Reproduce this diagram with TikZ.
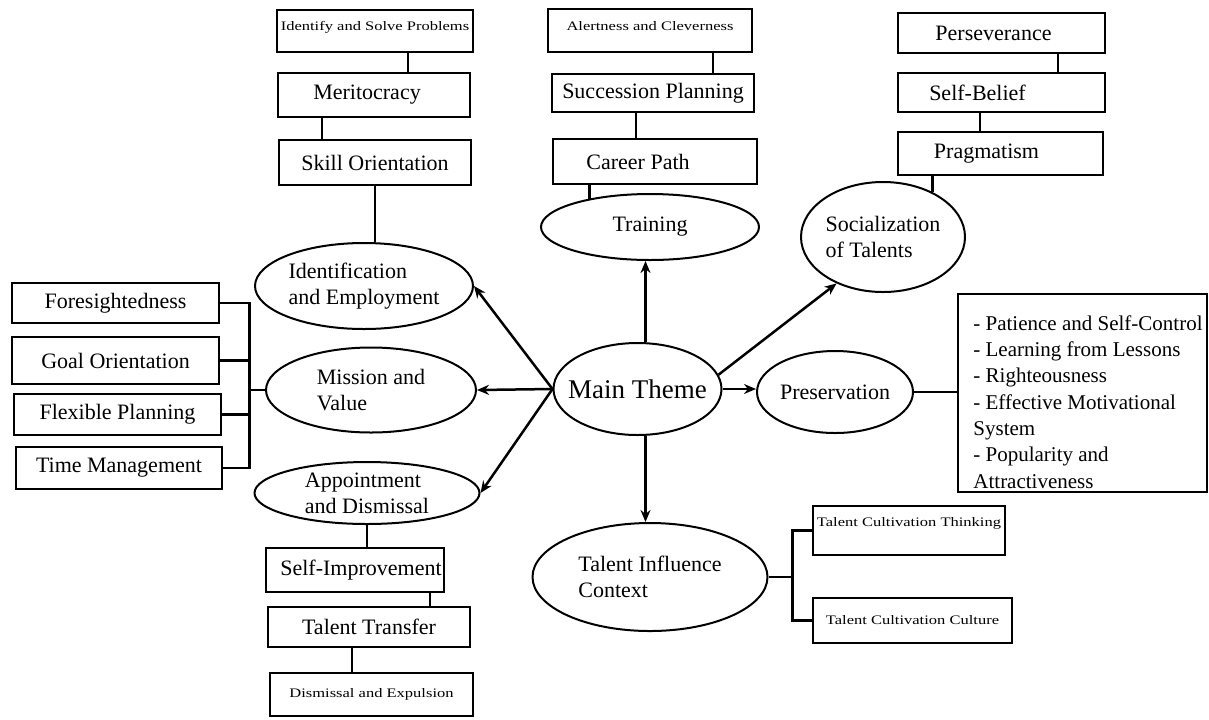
\documentclass[tikz,border=0pt]{standalone}
\usepackage{fontspec}
\usepackage{graphicx}
\setmainfont{Liberation Serif}
\usetikzlibrary{shapes.geometric,arrows.meta,calc}
\newcommand{\smalltxt}[1]{\scalebox{1.27}[1]{\fontsize{6.5}{8}\selectfont #1}}
\newcommand{\lift}[2]{\raisebox{#1}[\height][\depth]{#2}}
\begin{document}
\begin{tikzpicture}[x=0.5pt,y=-0.5pt,
  bx/.style 2 args={draw, line width=1.4pt, rectangle, inner sep=0pt,
    minimum width=#1*0.5pt, minimum height=#2*0.5pt, font=\fontsize{11}{13}\selectfont},
  el/.style 2 args={draw, line width=1pt, ellipse, inner sep=0pt,
    minimum width=#1*0.5pt, minimum height=#2*0.5pt, font=\fontsize{11}{13}\selectfont, align=left},
  ln/.style={line width=1.4pt},
  arr/.style={line width=1.25pt, -{Stealth[length=6pt,width=5pt]}}
]
\fill[white] (0,0) rectangle (1209,719);
\useasboundingbox (0,0) rectangle (1209,719);

% top-left chain
\node[bx={196}{42}] (isp) at (375,31) {\lift{2pt}{\smalltxt{Identify and Solve Problems}}};
\node[bx={192}{44}] (mer) at (374,95) {\makebox[0pt]{Meritocracy\hspace*{7pt}}};
\node[bx={192}{45}] (skl) at (375,162.5) {Skill Orientation};
% top-middle chain
\node[bx={204}{43}] (alc) at (650,30.5) {\lift{2pt}{\smalltxt{Alertness and Cleverness}}};
\node[bx={202}{38}] (suc) at (653,93) {Succession Planning};
\node[bx={204}{45}] (car) at (655,161.5) {\makebox[0pt]{Career Path\hspace*{17pt}}};
% top-right chain
\node[bx={207}{40}] (per) at (1001.5,33) {\makebox[0pt]{Perseverance\hspace*{8pt}}};
\node[bx={207}{39}] (sbf) at (1001.5,92.5) {\makebox[0pt]{Self-Belief\hspace*{24pt}}};
\node[bx={205}{43}] (prg) at (1000.5,153.5) {\makebox[0pt]{Pragmatism\hspace*{14pt}}};
% left column
\node[bx={207}{40}] (fore) at (115.5,303) {Foresightedness};
\node[bx={207}{47}] (goal) at (115.5,360.5) {Goal Orientation};
\node[bx={207}{41}] (flex) at (117.5,414.5) {Flexible Planning};
\node[bx={206}{42}] (time) at (119,468) {Time Management};
% bottom-left chain
\node[bx={178}{44}] (simp) at (355,570) {\makebox[0pt]{\hspace*{6pt}Self-Improvement}};
\node[bx={202}{40}] (ttr) at (369,627) {Talent Transfer};
\node[bx={203}{43}] (dex) at (371.5,694.5) {\smalltxt{Dismissal and Expulsion}};
% bottom-right boxes
\node[bx={192}{49}] (tct) at (909,530.5) {\lift{3.75pt}{\smalltxt{Talent Cultivation Thinking}}};
\node[bx={199}{45}] (tcc) at (912.5,620.5) {\smalltxt{Talent Cultivation Culture}};
% preservation box
\node[anchor=north west, inner sep=0pt, align=left, font=\fontsize{10.5}{13.15}\selectfont]
  (plist) at (973,315) {- Patience and Self-Control\\- Learning from Lessons\\- Righteousness\\- Effective Motivational\\System\\- Popularity and\\Attractiveness};
\node[bx={249}{198}] (pbox) at (1082.5,393) {};

% ellipses
\node[el={218}{86}] (ident) at (364,286) {Identification\\and Employment};
\node[el={210}{85}] (mis) at (371,390) {Mission and\\Value};
\node[el={225}{62}] (appt) at (367,493) {Appointment\\and Dismissal};
\node[el={168}{92}, font=\fontsize{13.5}{16}\selectfont] (main) at (637.5,389) {\makebox[40pt]{Main Theme}};
\node[el={218}{66}] (train) at (650,227) {Training};
\node[el={164}{110}] (soc) at (883,237) {Socialization\\of Talents};
\node[el={156}{82}] (pres) at (835,392) {Preservation};
\node[el={235}{108}] (tic) at (650,577) {Talent Influence\\Context};

% connectors
\draw[ln] ([xshift=16.5pt]isp.south) -- ([xshift=17pt]mer.north);
\draw[ln] ([xshift=-26pt]mer.south) -- ([xshift=-26.5pt]skl.north);
\draw[ln] (skl.south) -- (skl.south |- ident.north);
\draw[ln] ([xshift=31.5pt]alc.south) -- ([xshift=30pt]suc.north);
\draw[ln] ([xshift=-8.5pt]suc.south) -- ([xshift=-9.5pt]car.north);
\draw[ln] (car.south -| train.155) -- (train.155);
\draw[ln] ([xshift=28.25pt]per.south) -- ([xshift=28.25pt]sbf.north);
\draw[ln] ([xshift=-10.75pt]sbf.south) -- ([xshift=-10.25pt]prg.north);
\draw[ln] (prg.south -| soc.42) -- (soc.42);

\draw[ln] (fore.east) -- ([xshift=14.5pt]fore.east) -- ([xshift=14.5pt]fore.east |- time.east) -- (time.east);
\draw[ln] (goal.east) -- ([xshift=14.5pt]fore.east |- goal.east);
\draw[ln] (flex.east) -- ([xshift=14.5pt]fore.east |- flex.east);
\draw[ln] (mis.west) -- ([xshift=14.5pt]fore.east |- mis.west);

\draw[ln] (appt.south) -- (appt.south |- simp.north);
\draw[ln] ([xshift=37.5pt]simp.south) -- ([xshift=30.5pt]ttr.north);
\draw[ln] ([xshift=-8.5pt]ttr.south) -- ([xshift=-9.75pt]dex.north);

\draw[ln] (tct.west) -- ([xshift=-9.5pt]tct.west) -- ([xshift=-9.5pt]tct.west |- tcc.west) -- (tcc.west);
\draw[ln] (tic.east) -- ([xshift=-9.5pt]tct.west |- tic.east);

\draw[ln] (pres.east) -- (pbox.west |- pres.east);

% arrows from main theme
\draw[arr] (main.west) -- (ident.east);
\draw[arr] (main.west) -- (mis.east);
\draw[arr] (main.west) -- (appt.east);
\draw[arr] ([xshift=4pt]main.north) -- ([xshift=4pt]main.north |- train.south);
\draw[arr] ([xshift=4pt]main.south) -- ([xshift=4pt]main.south |- tic.north);
\draw[arr] (main.10) -- (soc.225);
\draw[arr] (main.east) -- (main.east -| pres.west);
\end{tikzpicture}
\end{document}
